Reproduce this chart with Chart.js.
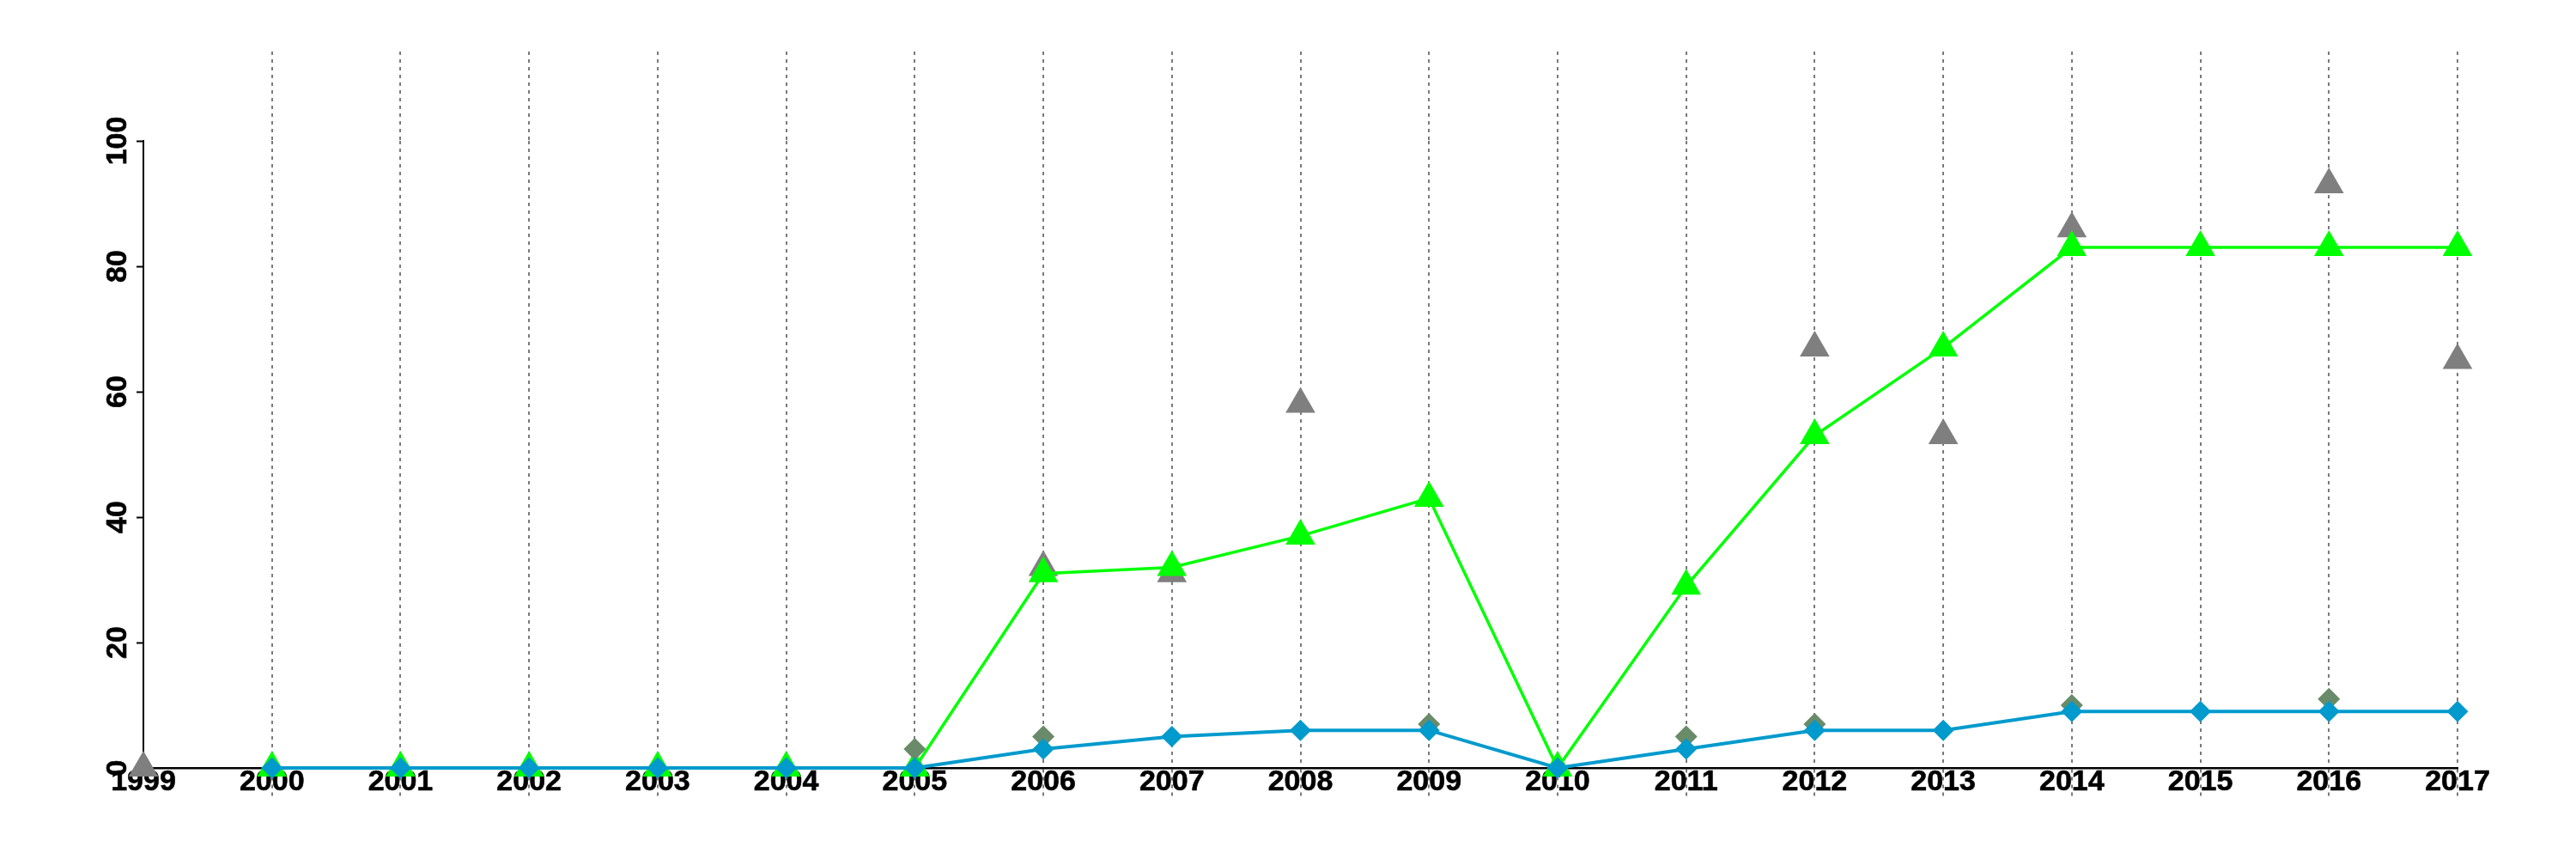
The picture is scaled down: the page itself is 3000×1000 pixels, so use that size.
<!DOCTYPE html>
<html>
<head>
<meta charset="utf-8">
<script src="https://cdn.jsdelivr.net/npm/chart.js@4.4.1/dist/chart.umd.min.js"></script>
<style>
html,body{margin:0;padding:0;background:#ffffff;}
#wrap{width:3000px;height:1000px;}
</style>
</head>
<body>
<div id="wrap"><canvas id="c" width="3000" height="1000"></canvas></div>
<script>
// ---- data ----
const years = ['1999','2000','2001','2002','2003','2004','2005','2006','2007','2008','2009','2010','2011','2012','2013','2014','2015','2016','2017'];
const yTickLabels = [0, 20, 40, 60, 80, 100];
const blueDiamonds  = [null, 0, 0, 0, 0, 0, 0, 3, 5, 6, 6, 0, 3, 6, 6, 9, 9, 9, 9];
const oliveDiamonds = [null, null, null, null, null, null, 3, 5, null, null, 7, null, 5, 7, null, 10, null, 11, null];
const greenTriangles = [null, 0, 0, 0, 0, 0, 0, 31, 32, 37, 43, 0, 29, 53, 67, 83, 83, 83, 83];
const grayTriangles = [0, null, null, null, null, null, null, 32, 31, 58, null, null, null, 67, 53, 86, null, 93, 65];

const FONT = { family: '"Liberation Sans", Arial, Helvetica, sans-serif', size: 34, weight: 'bold', lineHeight: 1 };
const GRID_GRAY = '#7a7a7a';
const gridColor = (ctx) => (ctx.index === 0 ? 'rgba(0,0,0,0)' : GRID_GRAY);

new Chart(document.getElementById('c'), {
  type: 'line',
  data: {
    labels: years,
    datasets: [
      {
        data: blueDiamonds, order: 1, showLine: true,
        borderColor: '#009ACD', borderWidth: 4, tension: 0,
        pointStyle: 'rectRot', pointRadius: 12.5, pointBackgroundColor: '#009ACD',
        pointBorderWidth: 0, pointHoverRadius: 12.5, clip: false
      },
      {
        data: oliveDiamonds, order: 2, showLine: false,
        pointStyle: 'rectRot', pointRadius: 13, pointBackgroundColor: '#698B69',
        pointBorderWidth: 0, pointHoverRadius: 13, clip: false
      },
      {
        data: greenTriangles, order: 3, showLine: true,
        borderColor: '#00FF00', borderWidth: 3.5, tension: 0,
        pointStyle: 'triangle', pointRadius: 20, pointBackgroundColor: '#00FF00',
        pointBorderWidth: 0, pointHoverRadius: 20, clip: false
      },
      {
        data: grayTriangles, order: 4, showLine: false,
        pointStyle: 'triangle', pointRadius: 20, pointBackgroundColor: '#7f7f7f',
        pointBorderWidth: 0, pointHoverRadius: 20, clip: false
      }
    ]
  },
  options: {
    responsive: false,
    devicePixelRatio: 1,
    animation: false,
    events: [],
    layout: { padding: { left: 0, right: 138, top: 0, bottom: 0 } },
    plugins: { legend: { display: false }, tooltip: { enabled: false } },
    scales: {
      x: {
        type: 'category', position: 'bottom', offset: false,
        grid: {
          display: true, drawOnChartArea: true, drawTicks: true,
          color: gridColor, lineWidth: 2,
          tickLength: 33, tickColor: gridColor, tickWidth: 2, tickBorderDash: [4, 5]
        },
        border: { display: true, color: '#000000', width: 2.5, dash: [4, 5] },
        ticks: { autoSkip: false, maxRotation: 0, minRotation: 0, padding: -33, color: '#000000', font: FONT,
                 textStrokeColor: '#000000', textStrokeWidth: 0.6 },
        afterFit: (s) => { s.height = 106; }
      },
      x2: {
        type: 'category', position: 'top', offset: false,
        grid: {
          display: true, drawOnChartArea: false, drawTicks: true,
          color: gridColor, lineWidth: 2,
          tickLength: 104, tickColor: gridColor, tickWidth: 2, tickBorderDash: [4, 5]
        },
        border: { display: false },
        ticks: { display: false },
        afterFit: (s) => { s.height = 164; }
      },
      y: {
        type: 'linear', position: 'left', min: 0, max: 100,
        grid: { display: true, drawOnChartArea: false, drawTicks: true, tickLength: 8, tickColor: '#000000', tickWidth: 2, color: '#000000' },
        border: { display: true, color: '#000000', width: 2 },
        ticks: {
          autoSkip: false, minRotation: 90, maxRotation: 90, crossAlign: 'center', padding: -7,
          color: '#000000', font: FONT, textStrokeColor: '#000000', textStrokeWidth: 0.6,
          callback: (v) => String(v)
        },
        afterBuildTicks: (s) => { s.ticks = yTickLabels.map(v => ({ value: v })); },
        afterFit: (s) => { s.width = 167; }
      }
    }
  }
});
</script>
</body>
</html>
